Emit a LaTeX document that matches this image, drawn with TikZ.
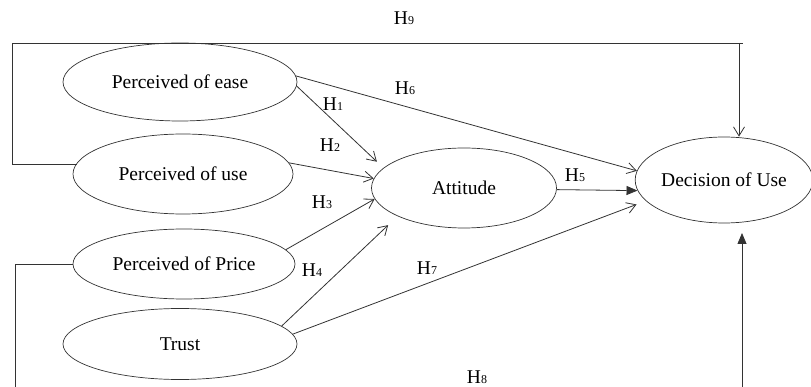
\documentclass[tikz,border=0pt]{standalone}
\usepackage{fontspec}
\setmainfont{Liberation Serif}
\usetikzlibrary{shapes.geometric,arrows.meta}
\newcommand\hyp[1]{H\kern0.3pt{\fontsize{12}{12}\selectfont #1}}
\begin{document}
\begin{tikzpicture}[x=1pt,y=-1pt,
  construct/.style={draw=black!80,line width=0.7pt,ellipse,inner sep=0pt,font=\fontsize{19.5}{22}\selectfont},
  link/.style={draw=black!80,line width=0.8pt},
  openarrow/.style={link,-{Straight Barb[length=9pt,width=11pt,line width=0.8pt]}},
  fillarrow/.style={link,-{Triangle[length=11pt,width=9pt]}},
  hlabel/.style={font=\fontsize{19.5}{22}\selectfont,inner sep=0pt}]
\useasboundingbox (0,0) rectangle (811,387);
\node[construct,minimum width=234pt,minimum height=78pt] (ease) at (180,82) {Perceived of ease};
\node[construct,minimum width=220pt,minimum height=80pt] (use) at (183,174) {Perceived of use};
\node[construct,minimum width=222pt,minimum height=70pt] (price) at (184,264) {Perceived of Price};
\node[construct,minimum width=234pt,minimum height=71pt] (trust) at (180,344) {Trust};
\node[construct,minimum width=185pt,minimum height=80pt] (att) at (464,188) {Attitude};
\node[construct,minimum width=174pt,minimum height=86pt] (dec) at (724,180) {Decision of Use};

% H9 loop
\coordinate (h9a) at (12,164);
\coordinate (h9b) at (12,43);
\coordinate (h9c) at (743,43);
\coordinate (h9d) at (739,43);
\draw[link] (use.174 |- h9a) -- (h9a) -- (h9b) -- (h9c);
\draw[openarrow] (h9d) -- (h9d |- dec.north);

% H8 loop (partly outside the picture)
\coordinate (h8a) at (15,264);
\coordinate (h8b) at (15,390);
\coordinate (h8c) at (742,390);
\coordinate (h8d) at (742,233);
\draw[link] (price.west) -- (h8a) -- (h8b);
\draw[fillarrow] (h8c) -- (h8d);

\draw[openarrow,shorten >=9pt] (ease.-2) -- (att.166);
\draw[openarrow] (ease.3) -- (dec.174);
\draw[openarrow] (use.6) -- (att.174);
\draw[openarrow] (price.8) -- (att.187);
\draw[openarrow,shorten >=13pt] (trust.10) -- (att.203);
\draw[openarrow,shorten >=10pt] (trust.5) -- (dec.195);
\draw[fillarrow] (att.-1) -- (dec.187);

\node[hlabel] (l9) at (404,18) {\hyp{9}};
\node[hlabel] (l6) at (405,88) {\hyp{6}};
\node[hlabel] (l1) at (333,104) {\hyp{1}};
\node[hlabel] (l2) at (330,145) {\hyp{2}};
\node[hlabel] (l3) at (322,202) {\hyp{3}};
\node[hlabel] (l4) at (312,270) {\hyp{4}};
\node[hlabel] (l7) at (427,268) {\hyp{7}};
\node[hlabel] (l5) at (575,175) {\hyp{5}};
\node[hlabel] (l8) at (477,377) {\hyp{8}};
\end{tikzpicture}
\end{document}
